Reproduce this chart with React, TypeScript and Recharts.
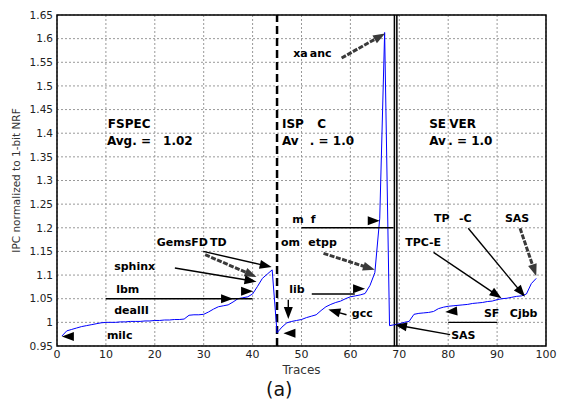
import {
  LineChart,
  Line,
  XAxis,
  YAxis,
  CartesianGrid,
  ReferenceLine,
  ReferenceDot,
  ReferenceArea,
} from 'recharts';

// traces are sorted by IPC inside each suite: FSPEC 1-44, ISPEC 45-67, SERVER 68-98
const TRACES = [
  1, 2, 3, 4, 5, 6, 7, 8, 9, 10, 11, 12, 13, 14, 15, 16, 17, 18, 19, 20,
  21, 22, 23, 24, 25, 26, 27, 28, 29, 30, 31, 32, 33, 34, 35, 36, 37, 38, 39, 40,
  41, 42, 43, 44, 45, 46, 47, 48, 49, 50, 51, 52, 53, 54, 55, 56, 57, 58, 59, 60,
  61, 62, 63, 64, 65, 66, 67, 68, 69, 70, 71, 72, 73, 74, 75, 76, 77, 78, 79, 80,
  81, 82, 83, 84, 85, 86, 87, 88, 89, 90, 91, 92, 93, 94, 95, 96, 97, 98,
];

const IPC = [
  0.971, 0.982, 0.985, 0.988, 0.991, 0.993, 0.995, 0.997, 0.999, 1.0,
  1.0, 1.0, 1.001, 1.001, 1.002, 1.002, 1.002, 1.003, 1.003, 1.004,
  1.004, 1.005, 1.005, 1.006, 1.006, 1.007, 1.015, 1.016, 1.016, 1.017,
  1.022, 1.028, 1.033, 1.035, 1.037, 1.043, 1.05, 1.052, 1.054, 1.06,
  1.076, 1.093, 1.102, 1.111,
  0.978, 0.99, 0.999, 1.002, 1.004, 1.006, 1.01, 1.013, 1.016, 1.025,
  1.033, 1.038, 1.042, 1.045, 1.05, 1.054, 1.056, 1.058, 1.061, 1.078,
  1.105, 1.22, 1.613,
  0.993, 0.995, 0.997, 1.0, 1.002, 1.017, 1.019, 1.02, 1.021, 1.023,
  1.029, 1.032, 1.034, 1.035, 1.036, 1.037, 1.038, 1.04, 1.041, 1.042,
  1.044, 1.045, 1.048, 1.05, 1.051, 1.053, 1.055, 1.056, 1.06, 1.082,
  1.093,
];

const X_TICKS = [0, 10, 20, 30, 40, 50, 60, 70, 80, 90, 100];
const Y_TICKS = [0.95, 1, 1.05, 1.1, 1.15, 1.2, 1.25, 1.3, 1.35, 1.4, 1.45, 1.5, 1.55, 1.6, 1.65];

// suite boundaries
const ISPEC_START = 45;
const SERVER_START = [69, 69.5];

// [text, x, y(baseline), size]
const LABELS: [string, number, number, number][] = [
  ['FSPEC', 10.4, 1.411, 12],
  ['Avg. =', 10.2, 1.375, 12],
  ['1.02', 21.7, 1.375, 12],
  ['ISP', 46.0, 1.411, 12],
  ['C', 53.2, 1.411, 12],
  ['Av', 46.0, 1.375, 12],
  ['. = 1.0', 51.7, 1.375, 12],
  ['SE', 76.1, 1.411, 12],
  ['VER', 80.2, 1.411, 12],
  ['Av', 76.1, 1.375, 12],
  ['. = 1.0', 80.0, 1.375, 12],
  ['xa', 48.3, 1.561, 11],
  ['anc', 51.7, 1.561, 11],
  ['GemsFD', 20.4, 1.162, 11],
  ['TD', 31.3, 1.162, 11],
  ['sphinx', 11.7, 1.111, 11],
  ['lbm', 12.1, 1.062, 11],
  ['dealII', 11.7, 1.017, 11],
  ['milc', 10.2, 0.964, 11],
  ['m', 48.1, 1.211, 11],
  ['f', 51.9, 1.211, 11],
  ['om', 45.8, 1.162, 11],
  ['etpp', 51.4, 1.162, 11],
  ['lib', 47.5, 1.063, 11],
  ['gcc', 60.3, 1.011, 11],
  ['TP', 77.1, 1.212, 11],
  ['-C', 82.2, 1.212, 11],
  ['SAS', 91.6, 1.212, 11],
  ['TPC-E', 71.2, 1.162, 11],
  ['SF', 87.3, 1.011, 11],
  ['Cjbb', 92.6, 1.011, 11],
  ['SAS', 80.6, 0.964, 11],
];

// [x1, y1, x2(tip), y2(tip), kind]  kind: a = black arrow, g = grey arrow, h = head only, l = plain line
const ARROWS: [number, number, number, number, string][] = [
  [58.2, 1.559, 67.1, 1.611, 'g'],
  [29.9, 1.15, 43.9, 1.117, 'a'],
  [30.3, 1.143, 40.8, 1.096, 'g'],
  [24.1, 1.115, 40.8, 1.086, 'a'],
  [37.8, 1.066, 40.1, 1.066, 'h'],
  [10, 1.05, 40, 1.05, 'l'],
  [33.6, 1.05, 36.0, 1.05, 'h'],
  [4.1, 0.97, 1.0, 0.97, 'h'],
  [50, 1.2, 68.8, 1.2, 'l'],
  [63.6, 1.215, 66.0, 1.215, 'h'],
  [54.5, 1.146, 65.0, 1.111, 'g'],
  [52.1, 1.06, 60.9, 1.06, 'l'],
  [60.7, 1.071, 63.0, 1.071, 'h'],
  [47.3, 1.048, 47.3, 1.007, 'a'],
  [48.3, 0.977, 46.3, 0.977, 'h'],
  [59.2, 1.016, 55.5, 1.027, 'a'],
  [84.1, 1.199, 95.7, 1.054, 'a'],
  [77.0, 1.148, 90.9, 1.051, 'a'],
  [94.7, 1.199, 98.0, 1.098, 'g'],
  [80.4, 0.974, 69.1, 0.995, 'a'],
  [80, 1.0, 90, 1.0, 'l'],
  [81.6, 1.024, 79.4, 1.022, 'h'],
];

const data = TRACES.map((t, i) => ({ trace: t, ipc: IPC[i] }));

const FONT = '"DejaVu Sans", Verdana, sans-serif';

function arrowShape(kind: string) {
  return (props: any) => {
    const { x1, y1, x2, y2 } = props;
    const color = kind === 'g' ? '#3a3a3a' : '#000';
    const dx = x2 - x1;
    const dy = y2 - y1;
    const len = Math.hypot(dx, dy) || 1;
    const ux = dx / len;
    const uy = dy / len;
    const L = 12;
    const W = 4.5;
    const bx = x2 - ux * L;
    const by = y2 - uy * L;
    const head = `${x2},${y2} ${bx - uy * W},${by + ux * W} ${bx + uy * W},${by - ux * W}`;
    return (
      <g>
        {kind !== 'h' && (
          <line
            x1={x1}
            y1={y1}
            x2={kind === 'l' ? x2 : bx + ux * 2}
            y2={kind === 'l' ? y2 : by + uy * 2}
            stroke={color}
            strokeWidth={kind === 'g' ? 3 : 1.4}
            strokeDasharray={kind === 'g' ? '5 1.5' : undefined}
          />
        )}
        {kind !== 'l' && <polygon points={head} fill={color} />}
      </g>
    );
  };
}

function labelShape(text: string, size: number) {
  return (props: any) => (
    <text
      x={props.cx}
      y={props.cy}
      fontFamily={FONT}
      fontWeight="bold"
      fontSize={size}
      fill="#000"
    >
      {text}
    </text>
  );
}

export default function App() {
  return (
    <div style={{ position: 'absolute', left: 0, top: 0, width: 561, height: 403, background: '#fff' }}>
      <LineChart
        width={561}
        height={403}
        data={data}
        margin={{ top: 15, right: 15, bottom: 27, left: 0 }}
      >
        <CartesianGrid stroke="#999" strokeDasharray="2 2" />
        <XAxis
          dataKey="trace"
          type="number"
          domain={[0, 100]}
          ticks={X_TICKS}
          height={30}
          tickLine={false}
          axisLine={false}
          tickSize={2}
          tickMargin={2}
          tick={{ fontSize: 11, fill: '#222', fontFamily: FONT }}
          label={{
            value: 'Traces',
            position: 'insideBottom',
            offset: 2,
            style: { fontSize: 12, fill: '#333', fontFamily: FONT },
          }}
        />
        <YAxis
          type="number"
          domain={[0.95, 1.65]}
          ticks={Y_TICKS}
          width={57}
          allowDataOverflow
          tickLine={false}
          axisLine={false}
          tickSize={2}
          tickMargin={2}
          tick={{ fontSize: 10.5, fill: '#222', fontFamily: FONT }}
          label={{
            value: 'IPC normalized to 1-bit NRF',
            angle: -90,
            position: 'insideLeft',
            offset: 16,
            style: { fontSize: 10.5, fill: '#333', fontFamily: FONT, textAnchor: 'middle' },
          }}
        />
        <ReferenceArea
          x1={0}
          x2={100}
          y1={0.95}
          y2={1.65}
          fill="none"
          stroke="#000"
          strokeWidth={1.5}
          ifOverflow="visible"
        />
        <ReferenceLine x={ISPEC_START} stroke="#000" strokeWidth={2.5} strokeDasharray="8 4" />
        {SERVER_START.map((x) => (
          <ReferenceLine key={x} x={x} stroke="#000" strokeWidth={1.5} />
        ))}
        <Line
          type="linear"
          dataKey="ipc"
          stroke="#0000ff"
          strokeWidth={1}
          dot={false}
          isAnimationActive={false}
        />
        {ARROWS.map(([x1, y1, x2, y2, kind], i) => (
          <ReferenceLine
            key={`a${i}`}
            segment={[
              { x: x1, y: y1 },
              { x: x2, y: y2 },
            ]}
            ifOverflow="visible"
            shape={arrowShape(kind)}
          />
        ))}
        {LABELS.map(([text, x, y, size], i) => (
          <ReferenceDot
            key={`l${i}`}
            x={x}
            y={y}
            r={0}
            ifOverflow="visible"
            shape={labelShape(text, size)}
          />
        ))}
      </LineChart>
      <div
        style={{
          position: 'absolute',
          left: 0,
          width: 561,
          top: 378,
          fontFamily: FONT,
          fontSize: 19,
          color: '#111',
        }}
      >
        <span style={{ position: 'absolute', left: 266 }}>(a)</span>
      </div>
    </div>
  );
}
